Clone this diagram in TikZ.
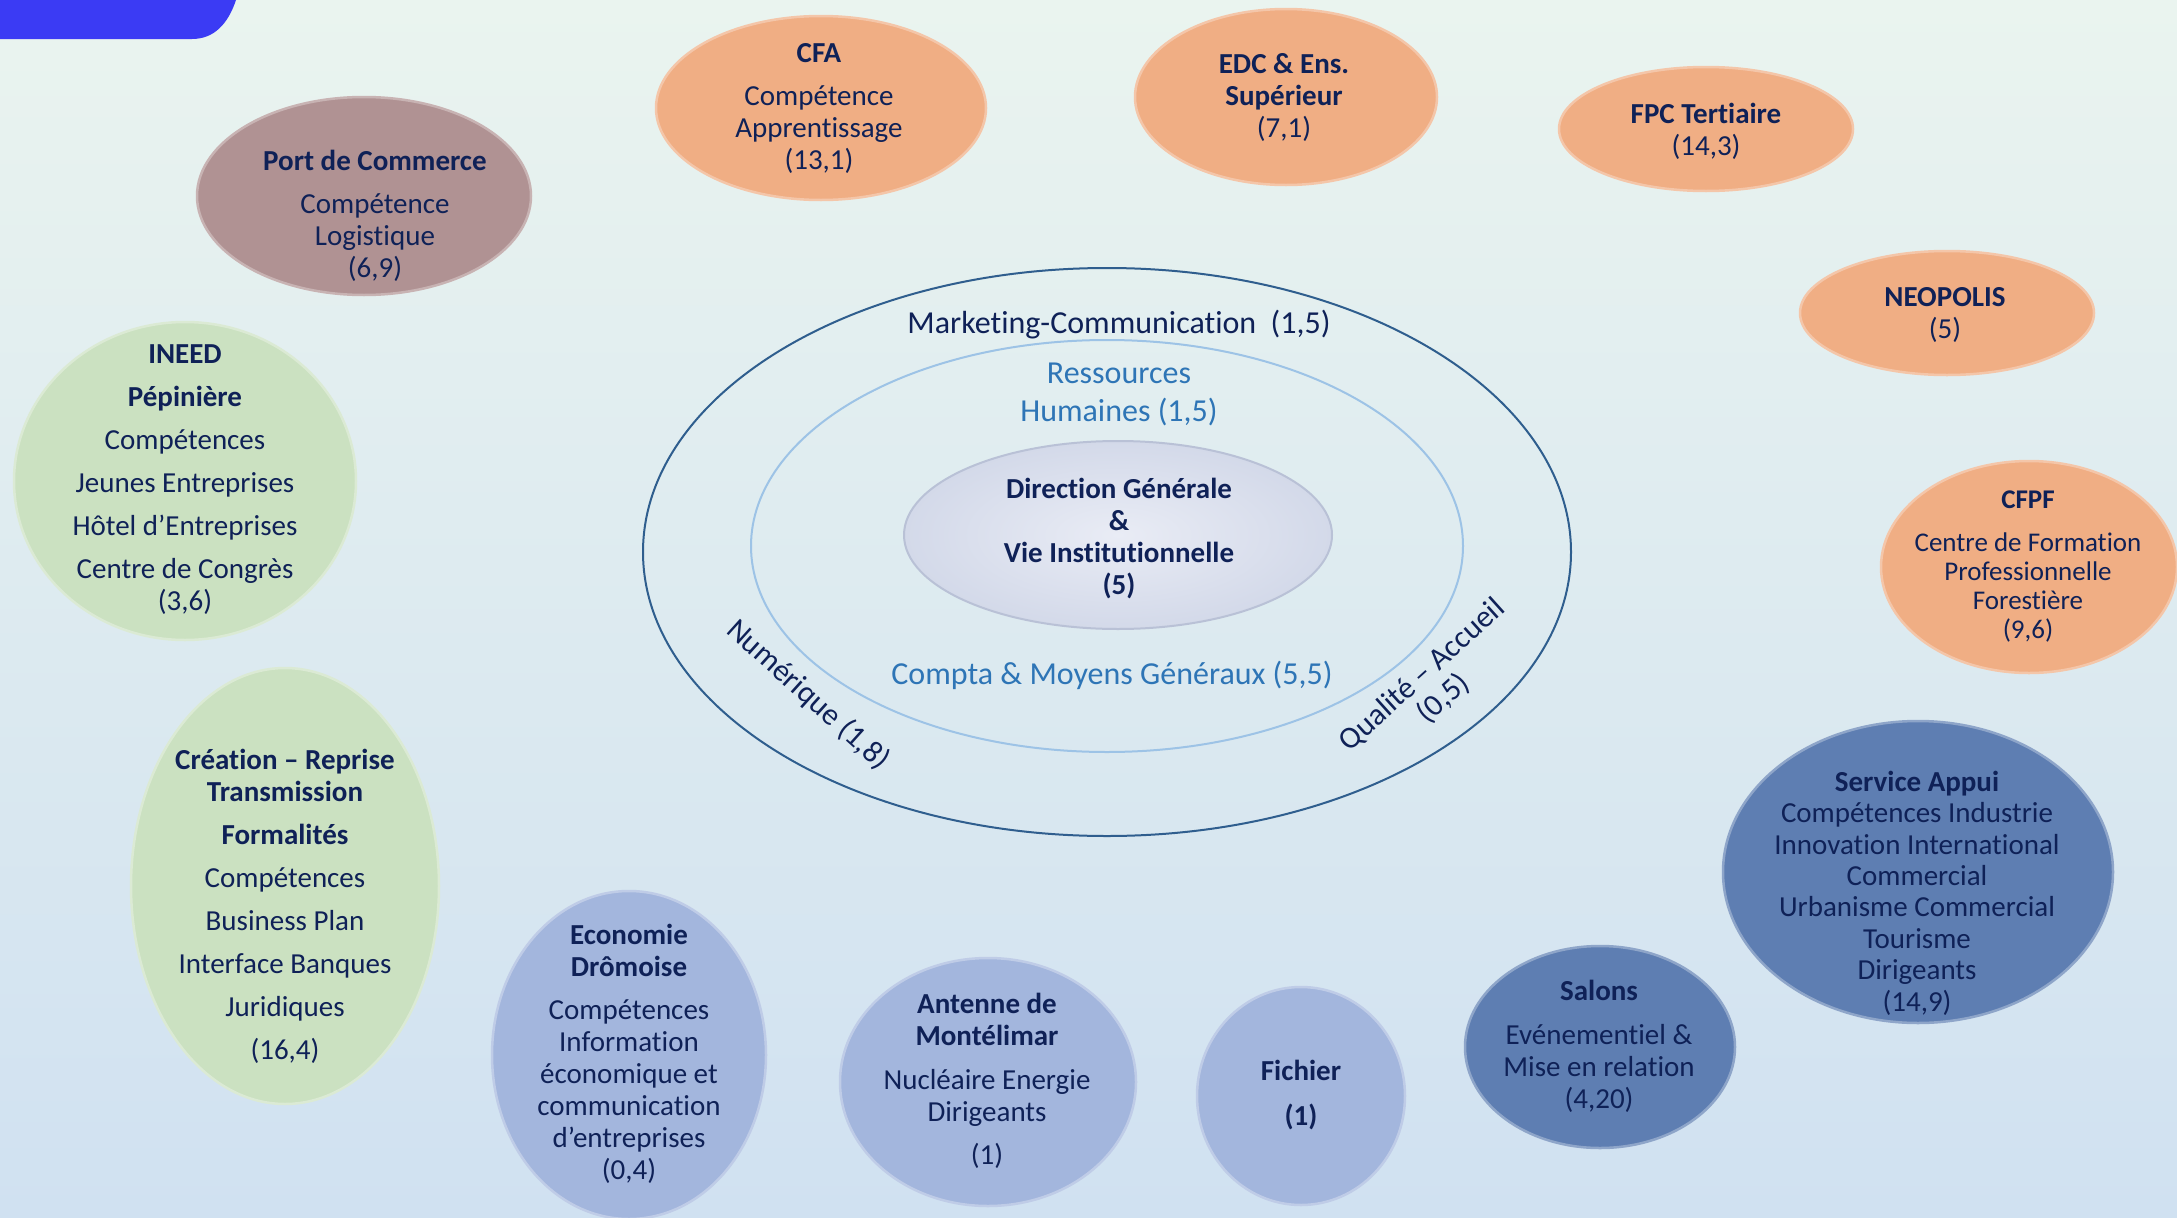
\documentclass[tikz,border=0pt]{standalone}
\usepackage{fontspec}
\setmainfont{Carlito}[Ligatures=NoCommon]
\usetikzlibrary{shapes.geometric}
\definecolor{navy}{HTML}{0F2157}
\definecolor{ltxt}{HTML}{2E75B6}
\definecolor{orng}{HTML}{F0AE84}
\definecolor{mauve}{HTML}{B09293}
\definecolor{grn}{HTML}{CBE1C1}
\definecolor{pblue}{HTML}{A3B6DD}
\definecolor{dblue}{HTML}{5E7EB2}
\definecolor{bgtop}{HTML}{EAF4EF}
\definecolor{bgbot}{HTML}{D0E1F1}
\definecolor{ring}{HTML}{2F5E8E}
\definecolor{ringin}{HTML}{9DC3E6}
\definecolor{cornerb}{HTML}{3B3BF4}
\definecolor{cin}{HTML}{E9ECF5}
\definecolor{cout}{HTML}{D3D9E9}
\definecolor{crim}{HTML}{B9C1D6}
\begin{document}
\begin{tikzpicture}[x=1pt,y=-1pt,
  bubble/.style={ellipse, inner sep=0pt, draw=#1!70!white, line width=2.5pt, fill=#1},
  txt/.style={align=center, text=navy, font=\fontsize{29}{32}\selectfont, inner sep=0pt},
  ringlbl/.style={txt, font=\fontsize{32}{38}\selectfont},
  ringstyle/.style={ellipse, inner sep=0pt, line width=2pt}
]
\useasboundingbox (0,0) rectangle (2177,1218);
\shade[top color=bgtop, bottom color=bgbot] (0,0) rectangle (2177,1218);
\fill[cornerb] (0,0) -- (236,0) .. controls (228,24) and (214,39) .. (192,39) -- (0,39) -- cycle;

% rings
\node[ringstyle, draw=ring, minimum width=928pt, minimum height=568pt] (outer) at (1107,552) {};
\node[ringstyle, draw=ringin, minimum width=712pt, minimum height=412pt] (inner) at (1107,546) {};
\node[ellipse, inner sep=0pt, inner color=cin, outer color=cout, draw=crim, line width=2pt,
      minimum width=428pt, minimum height=188pt] (dg) at (1118,535) {};

% bubbles
\node[bubble=mauve, minimum width=334pt, minimum height=198pt] (port) at (364,196) {};
\node[bubble=orng, minimum width=330pt, minimum height=184pt] (cfa) at (821,108) {};
\node[bubble=orng, minimum width=302pt, minimum height=176pt] (edc) at (1286,97) {};
\node[bubble=orng, minimum width=294pt, minimum height=124pt] (fpc) at (1706,129) {};
\node[bubble=orng, minimum width=294pt, minimum height=124pt] (neo) at (1947,313) {};
\node[bubble=orng, minimum width=296pt, minimum height=212pt] (cfpf) at (2029,567) {};
\node[bubble=grn, minimum width=342pt, minimum height=318pt] (ineed) at (185,481) {};
\node[bubble=grn, minimum width=308pt, minimum height=436pt] (crea) at (285,886) {};
\node[bubble=pblue, minimum width=274pt, minimum height=328pt] (eco) at (629,1055) {};
\node[bubble=pblue, minimum width=296pt, minimum height=248pt] (ant) at (988,1082) {};
\node[bubble=pblue, minimum width=208pt, minimum height=218pt] (fic) at (1301,1096) {};
\node[bubble=dblue, minimum width=270pt, minimum height=202pt] (sal) at (1600,1047) {};
\node[bubble=dblue, minimum width=390pt, minimum height=302pt] (sap) at (1918,872) {};

% texts
\node[txt] (portT) at (375,216) {\textbf{Port de Commerce}\\[11pt]Compétence\\Logistique\\(6,9)};
\node[txt] (cfaT) at (819,108) {\textbf{CFA}\\[11pt]Compétence\\Apprentissage\\(13,1)};
\node[txt] (edcT) at (1284,97) {\textbf{EDC \& Ens.}\\\textbf{Supérieur}\\(7,1)};
\node[txt] (fpcT) at (1706,131) {\textbf{FPC Tertiaire}\\(14,3)};
\node[txt] (neoT) at (1945,315) {\textbf{NEOPOLIS}\\(5)};
\node[txt, font=\fontsize{27}{29}\selectfont] (cfpfT) at (2028,567) {\textbf{CFPF}\\[14pt]Centre de Formation\\Professionnelle\\Forestière\\(9,6)};
\node[txt] (ineedT) at (185,480) {\textbf{INEED}\\[11pt]\textbf{Pépinière}\\[11pt]Compétences\\[11pt]Jeunes Entreprises\\[11pt]Hôtel d’Entreprises\\[11pt]Centre de Congrès\\(3,6)};
\node[txt] (creaT) at (285,906) {\textbf{Création – Reprise}\\\textbf{Transmission}\\[11pt]\textbf{Formalités}\\[11pt]Compétences\\[11pt]Business Plan\\[11pt]Interface Banques\\[11pt]Juridiques\\[11pt](16,4)};
\node[txt] (ecoT) at (629,1054) {\textbf{Economie}\\\textbf{Drômoise}\\[11pt]Compétences\\Information\\économique et\\communication\\d’entreprises\\(0,4)};
\node[txt] (antT) at (987,1081) {\textbf{Antenne de}\\\textbf{Montélimar}\\[12pt]Nucléaire Energie\\Dirigeants\\[11pt](1)};
\node[txt] (ficT) at (1301,1095) {\textbf{Fichier}\\[13pt]\textbf{(1)}};
\node[txt] (salT) at (1599,1046) {\textbf{Salons}\\[12pt]Evénementiel \&\\Mise en relation\\(4,20)};
\node[txt, font=\fontsize{29}{31.4}\selectfont] (sapT) at (1917,893) {\textbf{Service Appui}\\Compétences Industrie\\Innovation International\\Commercial\\Urbanisme Commercial\\Tourisme\\Dirigeants\\(14,9)};
\node[txt] (dgT) at (1119,539) {\textbf{Direction Générale}\\\textbf{\&}\\\textbf{Vie Institutionnelle}\\\textbf{(5)}};

% ring labels
\node[ringlbl] (mk) at (1119,325) {Marketing-Communication~~(1,5)};
\node[ringlbl, text=ltxt] (rh) at (1119,394) {Ressources\\Humaines (1,5)};
\node[ringlbl, text=ltxt] (cmg) at (1112,675) {Compta \& Moyens Généraux (5,5)};
\node[ringlbl, font=\fontsize{31}{36}\selectfont, rotate=-42] (num) at (808,695) {Numérique (1,8)};
\node[ringlbl, font=\fontsize{31}{32}\selectfont, rotate=42] (qa) at (1433,687) {Qualité – Accueil\\(0,5)};
\end{tikzpicture}
\end{document}
